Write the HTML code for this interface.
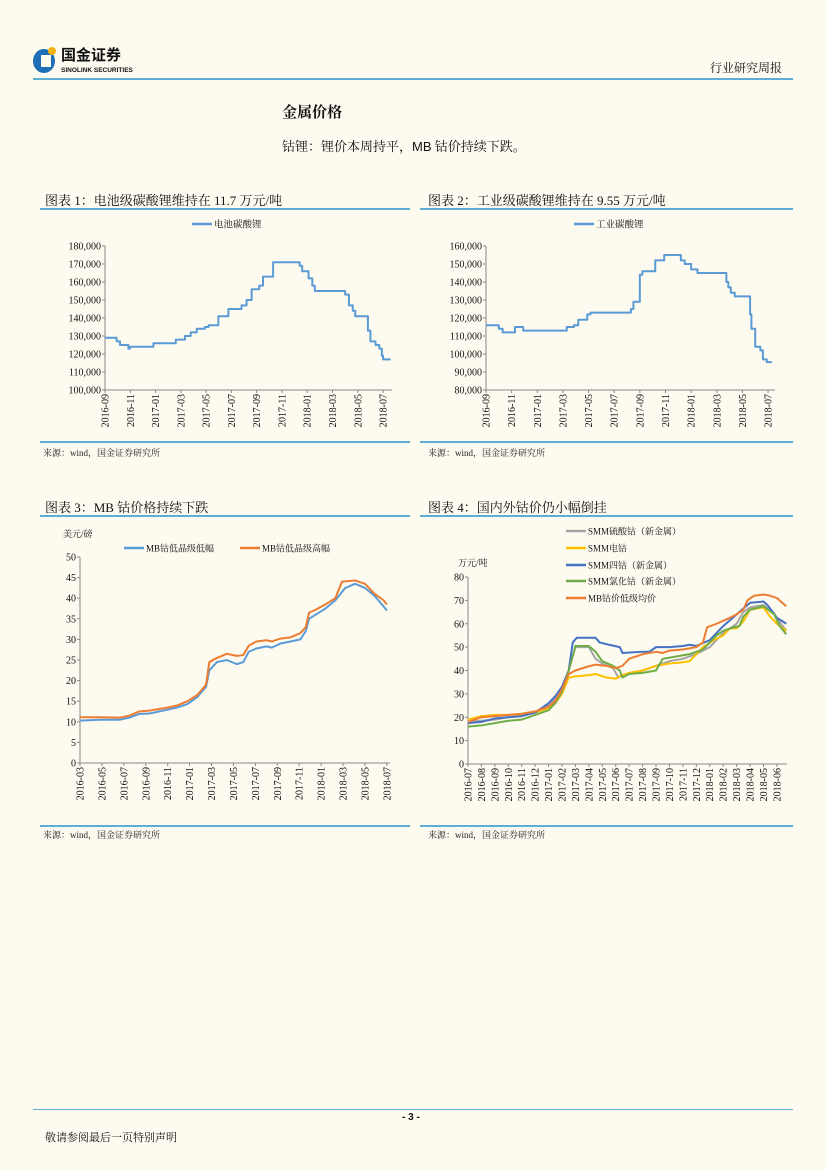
<!DOCTYPE html>
<html><head><meta charset="utf-8">
<style>
html,body{margin:0;padding:0}
body{width:827px;height:1170px;background:#fdfaf0;position:relative;overflow:hidden;font-family:"Liberation Serif","Noto Serif CJK SC",serif;color:#111}
.abs{position:absolute;white-space:nowrap}
.hl{position:absolute;height:2px;background:#5eaed3}
.ct{font-size:13px}
.src{font-size:9px;color:#222}
svg{position:absolute;left:0;top:0}
</style></head>
<body>
<div class="abs" style="left:33px;top:46px;width:120px;height:30px">
  <div style="position:absolute;left:0;top:3px;width:22px;height:24px;border-radius:50%;background:#1d6fb8"></div>
  <div style="position:absolute;left:8px;top:9px;width:10px;height:12px;background:#fdfaf0"></div>
  <div style="position:absolute;left:15px;top:1px;width:8px;height:8px;border-radius:50%;background:#f5b316"></div>
  <div class="abs" style="left:28px;top:-2px;font:bold 15px 'Noto Sans CJK SC',sans-serif;color:#111">国金证券</div>
  <div class="abs" style="left:28px;top:21px;font:bold 6.5px 'Liberation Sans',sans-serif">SINOLINK SECURITIES</div>
</div>
<div class="abs" style="left:710px;top:59px;font-size:12px">行业研究周报</div>
<div class="hl" style="left:33px;top:78px;width:760px"></div>
<div class="abs" style="left:282px;top:101px;font-size:15px;font-weight:bold">金属价格</div>
<div class="abs" style="left:282px;top:136px;font-size:13px">钴锂：锂价本周持平，<span style="font-family:'Liberation Sans'">MB</span> 钴价持续下跌。</div>

<div class="abs ct" style="left:45px;top:190px">图表 1：电池级碳酸锂维持在 11.7 万元/吨</div>
<div class="hl" style="left:40px;top:208px;width:370px"></div>
<div class="hl" style="left:40px;top:441px;width:370px"></div>
<div class="abs src" style="left:43px;top:446px">来源：wind，国金证券研究所</div>

<div class="abs ct" style="left:428px;top:190px">图表 2：工业级碳酸锂维持在 9.55 万元/吨</div>
<div class="hl" style="left:420px;top:208px;width:373px"></div>
<div class="hl" style="left:420px;top:441px;width:373px"></div>
<div class="abs src" style="left:428px;top:446px">来源：wind，国金证券研究所</div>

<div class="abs ct" style="left:45px;top:497px">图表 3：MB 钴价格持续下跌</div>
<div class="hl" style="left:40px;top:515px;width:370px"></div>
<div class="hl" style="left:40px;top:825px;width:370px"></div>
<div class="abs src" style="left:43px;top:828px">来源：wind，国金证券研究所</div>

<div class="abs ct" style="left:428px;top:497px">图表 4：国内外钴价仍小幅倒挂</div>
<div class="hl" style="left:420px;top:515px;width:373px"></div>
<div class="hl" style="left:420px;top:825px;width:373px"></div>
<div class="abs src" style="left:428px;top:828px">来源：wind，国金证券研究所</div>

<div class="abs" style="left:33px;top:1109px;width:760px;height:1px;background:#5eaed3"></div>
<div class="abs" style="left:402px;top:1112px;font:bold 10px 'Liberation Sans',sans-serif">- 3 -</div>
<div class="abs" style="left:45px;top:1129px;font-size:11px">敬请参阅最后一页特别声明</div>

<svg id="svg" width="827" height="1170"></svg>

<script>
// Chart 1: battery-grade lithium carbonate (months since 2016-09; value starts at month)
const c1Months=[0,0.92,1.19,1.85,1.98,3.83,5.6,6.33,6.78,7.26,7.9,8.2,8.97,9.76,10.8,11.2,11.6,12.2,12.5,13.3,15.4,15.6,16.1,16.4,16.6,19,19.3,19.6,19.8,20.8,21,21.4,21.7,21.9,22,22.6];
const c1Values=[129,127,125,123,124,126,128,130,132,134,135,136,141,145,147,150,156,158,163,171,169,166,162,158,155,153,147,144,141,133,127,125,123,119,117,117];
const c1Ticks=["2016-09","2016-11","2017-01","2017-03","2017-05","2017-07","2017-09","2017-11","2018-01","2018-03","2018-05","2018-07"];
const c1YTicks=[100,110,120,130,140,150,160,170,180];
// Chart 2: industrial-grade lithium carbonate
const c2Months=[0,1,1.3,2.26,2.9,6.3,6.86,7.2,7.9,8.15,11.3,11.5,12.0,12.2,13.2,13.9,15.2,15.5,16,16.5,18.75,18.9,19.1,19.4,20.6,20.7,21,21.4,21.6,21.9,22.3];
const c2Values=[116,114,112,115,113,115,116,119,122,123,125,129,144,146,152,155,152,150,147,145,140,137,134,132,122,114,104,102,97,95.5,95.5];
const c2Ticks=c1Ticks;
const c2YTicks=[80,90,100,110,120,130,140,150,160];
// Chart 3: MB cobalt (months since 2016-03)
const c3Months=[0,1.8,3.6,4.5,5.4,6.3,7.2,8.1,8.9,9.8,10.7,11.5,11.8,12.5,13.4,14.3,14.9,15.4,16.1,17,17.5,18.3,19.2,20.1,20.6,20.9,21.5,22.4,23.3,23.9,24.2,25.1,26,26.9,27.7,28];
const c3Low=[10.3,10.5,10.5,11,11.9,12,12.5,13,13.5,14.3,16,18.5,22.5,24.5,25,24,24.5,27,27.8,28.3,28,29,29.5,30,32,35,36,37.5,39.5,41.5,42.5,43.5,42.5,40.5,38,37];
const c3High=[11.1,11.1,11,11.5,12.5,12.7,13.1,13.5,14,15,16.5,19,24.5,25.5,26.5,26,26.2,28.5,29.5,29.8,29.5,30.2,30.5,31.5,33,36.5,37.2,38.5,40,44,44.1,44.3,43.5,41,39.5,38.5];
const c3Ticks=["2016-03","2016-05","2016-07","2016-09","2016-11","2017-01","2017-03","2017-05","2017-07","2017-09","2017-11","2018-01","2018-03","2018-05","2018-07"];
const c3YTicks=[0,5,10,15,20,25,30,35,40,45,50];
// Chart 4: domestic vs international cobalt (months since 2016-07)
const c4BlueM=[0,1,2,3,4,5,5.5,6,6.5,7,7.5,7.8,8.1,9.5,9.8,10.5,11.3,11.5,13,13.5,14,15,16,16.5,17,18,18.5,19,19.6,20.2,20.6,21,22,22.3,22.7,23,23.3,23.7];
const c4Blue=[17.5,18,19.5,20,20.5,22,24,26,29,33,40,52,54,54,52,51,50,47.5,48,48,50,50,50.5,51,50.5,53,56,59,62,65,67,69,69.5,68,65,62.5,61.5,60];
const c4GrayM=[0,1,2,3,4,5,6,6.5,7,7.5,8,9,9.5,10,10.8,11.2,11.5,12.5,13,14,15,16,16.5,17,18,18.5,19,19.5,20,20.5,21,22,22.7,23.3,23.7];
const c4Gray=[18,18.5,19,20,20.5,22,25,28,33,40,50,50,45,43,41,37,38,39,40,42,44,45,46,47,50,53,56,58,60,65,67,68,65,60,57];
const c4YellowM=[0,1,2,3,4,5,6,6.5,7,7.5,8,9,9.5,10.3,11,11.5,12,13,14,15,16,16.5,17,17.5,18.3,19,19.5,20,20.5,21,22,22.5,23,23.7];
const c4Yellow=[19,20.5,21,21,21,22,24,26,30,37,37.5,38,38.5,37,36.5,38,39,40,42,43,43.5,44,47,50,53,55,58,58,61,66,67,63,60,57];
const c4GreenM=[0,1,2,3,4,5,6,6.5,7,7.5,8,9,9.5,10,10.8,11.3,11.5,12,13,14,14.5,15.5,16.5,17,17.5,18,18.5,19,19.8,20.2,20.5,21,22,22.8,23.2,23.7];
const c4Green=[16,16.5,17.5,18.5,19,21,23,26,31,40,50.5,50.5,48,44,42,40,37,38.5,39,40,45,46,47,48,49,52,55,57,58.5,59,63,66,67.5,64,59,55.5];
const c4OrangeM=[0,1,2,3,4,5,6,6.5,7,7.5,8,8.8,9.5,10.3,11,11.5,12,13,14,14.5,15,16,17,17.5,17.8,18.5,19.3,20,20.5,20.8,21.3,22,22.5,23,23.4,23.7];
const c4Orange=[18,20,20.5,21,21.5,22.5,24.5,27,32,38.5,40,41.5,42.5,42,41,42,45,47,48,47.5,48.5,49,50,52,58.5,60,62,64,66,70,72,72.5,72,71,69,67.5];
const c4Ticks=["2016-07","2016-08","2016-09","2016-10","2016-11","2016-12","2017-01","2017-02","2017-03","2017-04","2017-05","2017-06","2017-07","2017-08","2017-09","2017-10","2017-11","2017-12","2018-01","2018-02","2018-03","2018-04","2018-05","2018-06"];
const c4YTicks=[0,10,20,30,40,50,60,70,80];

const NS='http://www.w3.org/2000/svg';
const svg=document.getElementById('svg');
function mk(tag,attrs,parent){const e=document.createElementNS(NS,tag);for(const k in attrs)e.setAttribute(k,attrs[k]);(parent||svg).appendChild(e);return e;}
function txt(x,y,s,size,anchor,rot){const t=mk('text',{x:x,y:y,'font-size':size,'text-anchor':anchor||'start','font-family':'Liberation Serif, Noto Serif CJK SC, serif',fill:'#111'});if(rot)t.setAttribute('transform','rotate(-90 '+x+' '+y+')');t.textContent=s;return t;}

function axes(name,x0,x1,yTop,yBot,ymin,ymax,yticks,fmt,ticks,tickX0,tickPx){
  const sy=v=>yBot-(v-ymin)/(ymax-ymin)*(yBot-yTop);
  const ax=mk('g',{});
  
  
  mk('line',{x1:x0,y1:yTop,x2:x0,y2:yBot,stroke:'#888','stroke-width':1},ax);
  mk('line',{x1:x0,y1:yBot,x2:x1,y2:yBot,stroke:'#888','stroke-width':1},ax);
  yticks.forEach(v=>{const y=sy(v);mk('line',{x1:x0-3,y1:y,x2:x0,y2:y,stroke:'#888'},ax);
    const t=txt(x0-4,y+3.5,fmt(v),10,'end');ax.appendChild(t);
    
    });
  ticks.forEach((s,i)=>{const x=tickX0+i*tickPx;mk('line',{x1:x,y1:yBot,x2:x,y2:yBot+3,stroke:'#888'},ax);
    const t=txt(x+3.5,yBot+4,s,10,'end',true);ax.appendChild(t);
    
    });
  return sy;
}
function line(name,months,vals,sx,sy,color,step,w){
  let d='';
  months.forEach((m,i)=>{const x=sx(m),y=sy(vals[i]);
    if(i===0)d+='M'+x+' '+y;
    else if(step)d+='H'+x+'V'+y;
    else d+='L'+x+' '+y;});
  const p=mk('path',{d:d,fill:'none',stroke:color,'stroke-width':w||2,'stroke-linejoin':'round'});
  
  
}
function legend(name,x,y,color,label,size){
  const g=mk('g',{});
  
  
  mk('line',{x1:x,y1:y,x2:x+20,y2:y,stroke:color,'stroke-width':2.5},g);
  g.appendChild(txt(x+22,y+3.5,label,size||9.5));
}
const comma=v=>v+',000';

// Chart 1
{const px=12.64;const sx=m=>105+m*px;
 const sy=axes('chart1',105,392,246,390,100,180,c1YTicks,comma,c1Ticks,105,px*2);
 line('chart1-battery-lithium-line',c1Months,c1Values,sx,sy,'#5b9bd5',true);
 legend('chart1-legend',192,224,'#5b9bd5','电池碳酸锂');}
// Chart 2
{const px=12.82;const sx=m=>486+m*px;
 const sy=axes('chart2',486,775,246,390,80,160,c2YTicks,comma,c2Ticks,486,px*2);
 line('chart2-industrial-lithium-line',c2Months,c2Values,sx,sy,'#5b9bd5',true);
 legend('chart2-legend',574,224,'#5b9bd5','工业碳酸锂');}
// Chart 3
{const px=10.96;const sx=m=>80+m*px;
 const sy=axes('chart3',80,390,557,763,0,50,c3YTicks,v=>String(v),c3Ticks,80,px*2);
 line('chart3-mb-low-line',c3Months,c3Low,sx,sy,'#5b9bd5',false);
 line('chart3-mb-high-line',c3Months,c3High,sx,sy,'#ed7d31',false);
 legend('chart3-legend-low',124,548,'#5b9bd5','MB钴低晶级低幅',9);
 legend('chart3-legend-high',240,548,'#ed7d31','MB钴低晶级高幅',9);
 const t=txt(63,537,'美元/磅',9);
 
 }
// Chart 4
{const px=13.43;const sx=m=>468+m*px;
 const sy=axes('chart4',468,787,577,764,0,80,c4YTicks,v=>String(v),c4Ticks,468,px);
 line('chart4-gray-line',c4GrayM,c4Gray,sx,sy,'#a5a5a5',false);
 line('chart4-yellow-line',c4YellowM,c4Yellow,sx,sy,'#ffc000',false);
 line('chart4-blue-line',c4BlueM,c4Blue,sx,sy,'#4472c4',false);
 line('chart4-green-line',c4GreenM,c4Green,sx,sy,'#70ad47',false);
 line('chart4-orange-line',c4OrangeM,c4Orange,sx,sy,'#ed7d31',false);
 legend('chart4-legend-gray',566,531,'#a5a5a5','SMM硫酸钴（新金属）',9);
 legend('chart4-legend-yellow',566,548,'#ffc000','SMM电钴',9);
 legend('chart4-legend-blue',566,565,'#4472c4','SMM四钴（新金属）',9);
 legend('chart4-legend-green',566,581,'#70ad47','SMM氯化钴（新金属）',9);
 legend('chart4-legend-orange',566,598,'#ed7d31','MB钴价低级均价',9);
 const t=txt(458,566,'万元/吨',9);
 
 }
</script>
</body></html>
